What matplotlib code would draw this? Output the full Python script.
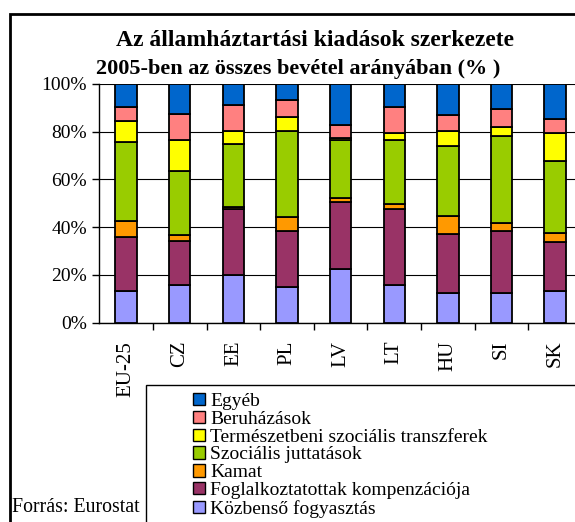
import numpy as np
import matplotlib.pyplot as plt
from matplotlib.patches import Patch, Rectangle

plt.rcParams['font.family'] = ['Liberation Serif', 'DejaVu Serif']

# Adatok (a kiadások szerkezete, % az összes bevételhez)
orszagok = ['EU-25', 'CZ', 'EE', 'PL', 'LV', 'LT', 'HU', 'SI', 'SK']
kozbenso = [13.4, 15.8, 19.8, 14.9, 22.3, 15.8, 12.6, 12.6, 13.4]
foglalk = [22.6, 18.6, 28.0, 23.6, 28.4, 31.7, 24.4, 25.8, 20.3]
kamat = [6.6, 2.5, 0.7, 5.8, 1.4, 2.1, 7.8, 3.2, 4.0]
szoc_jutt = [33.2, 26.8, 26.4, 36.1, 24.4, 26.9, 29.2, 36.6, 30.0]
termeszetbeni = [8.7, 12.8, 5.5, 5.9, 1.0, 3.1, 6.4, 3.9, 11.9]
beruhazas = [5.7, 10.8, 10.7, 7.1, 5.3, 10.6, 6.6, 7.3, 5.6]
egyeb = [9.8, 12.7, 8.9, 6.6, 17.2, 9.8, 13.0, 10.6, 14.8]

sorozatok = [
    ('Közbenső fogyasztás', kozbenso, '#9999FF'),
    ('Foglalkoztatottak kompenzációja', foglalk, '#993366'),
    ('Kamat', kamat, '#FF9900'),
    ('Szociális juttatások', szoc_jutt, '#99CC00'),
    ('Természetbeni szociális transzferek', termeszetbeni, '#FFFF00'),
    ('Beruházások', beruhazas, '#FF8080'),
    ('Egyéb', egyeb, '#0066CC'),
]

W, H = 575, 522
fig = plt.figure(figsize=(W / 100, H / 100), dpi=100)

# külső keret
fig.add_artist(Rectangle((10 / W, -0.1), 1.2, (H - 14) / H + 0.1, transform=fig.transFigure,
                         fill=False, edgecolor='black', lw=2))

ax = fig.add_axes([99.3 / W, (H - 322.7) / H, (582 - 99.3) / W, (322.7 - 84) / H])
x = np.arange(len(orszagok))
alap = np.zeros(len(orszagok))
for nev, ertek, szin in sorozatok:
    ax.bar(x, ertek, bottom=alap, width=0.4, color=szin, edgecolor='black', lw=1.3, zorder=3)
    alap += np.array(ertek)

ax.set_xlim(-0.5, len(orszagok) - 0.5)
ax.set_ylim(0, 100)
ax.set_yticks(np.arange(0, 101, 20))
ax.set_yticklabels([f'{v}%' for v in range(0, 101, 20)], fontsize=14)
ax.yaxis.grid(True, color='black', lw=0.8, zorder=0)
ax.set_xticks(x)
ax.set_xticklabels(orszagok, rotation=90, fontsize=15)
ax.set_xticks(np.arange(0.5, len(orszagok) - 0.5, 1), minor=True)
ax.tick_params(axis='x', which='major', length=0, pad=13)
ax.tick_params(axis='x', which='minor', length=5, direction='out', width=1)
ax.tick_params(axis='y', length=5, direction='out', width=1, pad=4)
ax.spines['right'].set_visible(False)
ax.spines['top'].set_visible(False)
ax.spines['left'].set_linewidth(1)
ax.spines['bottom'].set_linewidth(1)

fig.text(315 / W, 1 - 41 / H, 'Az államháztartási kiadások szerkezete', ha='center', va='center',
         fontsize=17, fontweight='bold')
fig.text(298 / W, 1 - 69 / H, '2005-ben az összes bevétel arányában (% )', ha='center', va='center',
         fontsize=16, fontweight='bold')

# jelmagyarázat doboza
fig.add_artist(Rectangle((146 / W, -0.1), 1.0, (H - 385) / H + 0.1, transform=fig.transFigure,
                         fill=False, edgecolor='black', lw=1))
kezelok = [Patch(facecolor=s, edgecolor='black', lw=1) for _, _, s in reversed(sorozatok)]
cimkek = [n for n, _, _ in reversed(sorozatok)]
fig.legend(kezelok, cimkek, loc='upper left', bbox_to_anchor=(193 / W, 1 - 393 / H),
           frameon=False, fontsize=14, handlelength=0.6, handleheight=0.6,
           handletextpad=0.3, labelspacing=0.04, borderpad=0, borderaxespad=0)

fig.text(12 / W, 1 - 508 / H, 'Forrás: Eurostat', ha='left', va='center', fontsize=14.3)

fig.savefig('out.png', dpi=100)
